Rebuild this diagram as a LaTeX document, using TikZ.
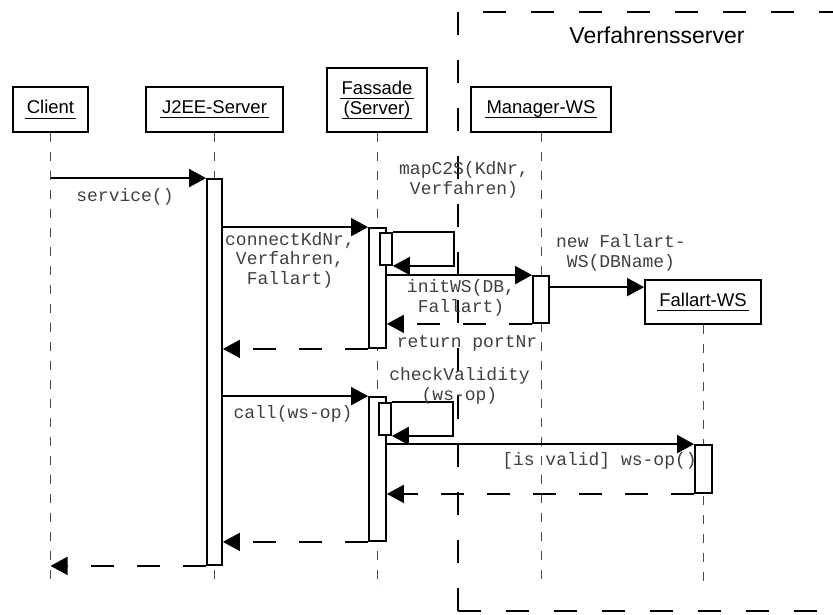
\documentclass[tikz,border=0pt]{standalone}
\usepackage{fontspec}
\setmainfont{Liberation Sans}
\newfontfamily\monofont{Liberation Mono}
\usetikzlibrary{arrows.meta}

% underlined object name, rule at a fixed distance below the baseline
\newcommand\ulabel[1]{\setbox0=\hbox{\kern2pt#1\kern2pt}\dp0=0pt\vtop{\box0\kern4pt\hrule height 1pt}}

\tikzset{
  obj/.style={draw, line width=1.8pt, inner sep=0pt, align=center,
    font=\fontsize{18.5}{20}\selectfont},
  actbar/.style={draw, fill=white, line width=1.8pt, inner sep=0pt},
  lifeline/.style={draw=black!70, line width=1pt, dash pattern=on 9pt off 10pt},
  msg/.style={line width=1.8pt, -{Triangle[length=17pt,width=18pt]}},
  reply/.style={msg, dash pattern=on 23pt off 23pt},
  lbl/.style={font=\monofont\fontsize{18}{19.5}\selectfont, text=black!75,
    align=center, inner sep=0pt, anchor=base},
  frame/.style={line width=2pt, dash pattern=on 23pt off 25pt},
}

\begin{document}
\begin{tikzpicture}[x=1pt, y=-1pt]
\useasboundingbox (0,0) rectangle (833,614);

% server boundary
\draw[frame] (458,12) -- (458,611);
\draw[frame] (458,611) -- (845,611);
\draw[frame] (483,12) -- (845,12);
\node[font=\fontsize{23}{26}\selectfont, anchor=base, inner sep=0pt] (vs) at (657,43) {Verfahrensserver};

% objects
\node[obj, minimum width=75pt, minimum height=45pt] (client) at (50.5,109.5) {\ulabel{Client}};
\node[obj, minimum width=137pt, minimum height=45pt] (j2ee) at (214.5,109.5) {\ulabel{J2EE-Server}};
\node[obj, minimum width=100pt, minimum height=64pt] (fassade) at (377,100) {\ulabel{Fassade}\\\ulabel{(Server)}};
\node[obj, minimum width=140pt, minimum height=45pt] (manager) at (541,109.5) {\ulabel{Manager-WS}};
\node[obj, minimum width=116pt, minimum height=44pt] (fallart) at (703,302) {\ulabel{Fallart-WS}};

% lifelines
\draw[lifeline] (client.south) -- ++(0,447);
\draw[lifeline] (j2ee.south) -- ++(0,452);
\draw[lifeline] (fassade.south) -- ++(0,456);
\draw[lifeline] (manager.south) -- ++(0,446);
\draw[lifeline] (fallart.south) -- ++(0,259);

% activations
\node[actbar, minimum width=15pt, minimum height=386pt] (jbar) at (214.5,372) {};
\node[actbar, minimum width=17pt, minimum height=120pt] (fbar1) at (377.5,288) {};
\node[actbar, minimum width=12pt, minimum height=32pt] (fn1) at (386,249) {};
\node[actbar, minimum width=16pt, minimum height=47pt] (mbar) at (541,299.5) {};
\node[actbar, minimum width=17pt, minimum height=144pt] (fbar2) at (377.5,469) {};
\node[actbar, minimum width=12pt, minimum height=32pt] (fn2) at (385,419) {};
\node[actbar, minimum width=17pt, minimum height=48pt] (wbar) at (703.5,469) {};

% messages
\draw[msg] (client |- jbar.north west) -- (jbar.north west);
\draw[msg] (jbar.east |- fbar1.north west) -- (fbar1.north west);
\draw[msg] (fn1.north east) -- ++(61,0) |- (fn1.south east);
\draw[msg] (fbar1.east |- mbar.north west) -- (mbar.north west);
\draw[reply] (mbar.south west) -- (fbar1.east |- mbar.south west);
\coordinate (newws) at ([yshift=-12pt]mbar.north east);
\draw[msg] (newws) -- (newws -| fallart.west);
\draw[reply] (fbar1.south west) -- (jbar.east |- fbar1.south west);
\draw[msg] (jbar.east |- fbar2.north west) -- (fbar2.north west);
\draw[msg] (fn2.north east) -- ++(61,0) |- (fn2.south east);
\draw[msg] (fbar2.east |- wbar.north west) -- (wbar.north west);
\draw[reply] (wbar.south west) -- (fbar2.east |- wbar.south west);
\draw[reply] (fbar2.south west) -- (jbar.east |- fbar2.south west);
\draw[reply] (jbar.south west) -- (client |- jbar.south west);

% message labels (base = baseline of the last line)
\node[lbl] (l1) at (125,201) {service()};
\node[lbl] (l2) at (290,284) {connectKdNr,\\Verfahren,\\Fallart)};
\node[lbl] (l3) at (464,194) {mapC2S(KdNr,\\Verfahren)};
\node[lbl] (l4) at (461,312) {initWS(DB,\\Fallart)};
\node[lbl] (l5) at (467,347) {return portNr};
\node[lbl] (l6) at (621,267) {new Fallart-\\WS(DBName)};
\node[lbl] (l7) at (293,418) {call(ws-op)};
\node[lbl] (l8) at (459.5,400) {checkValidity\\(ws-op)};
\node[lbl] (l9) at (599.5,465) {[is valid] ws-op()};
\end{tikzpicture}
\end{document}
